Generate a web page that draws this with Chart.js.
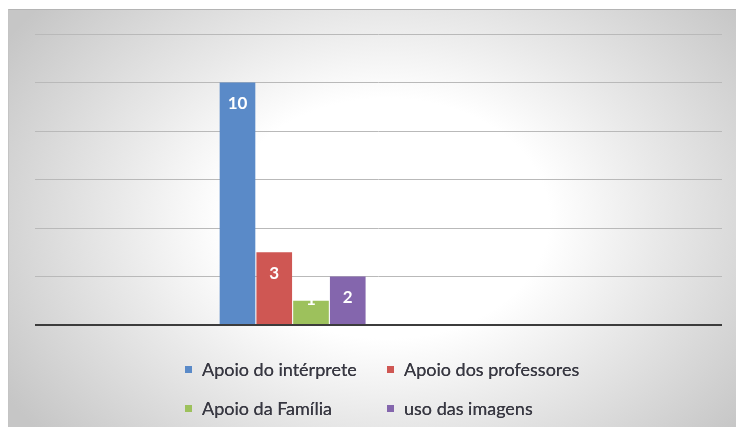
<!DOCTYPE html>
<html lang="pt">
<head>
<meta charset="utf-8">
<script src="https://cdn.jsdelivr.net/npm/chart.js@4.4.1/dist/chart.umd.min.js"></script>
<style>
  html, body { margin: 0; padding: 0; background: #ffffff; }
  #wrap { position: relative; width: 736px; height: 427px; overflow: hidden; }
  #panel {
    position: absolute; left: 8px; top: 9px; right: 0; bottom: 0;
    border-top: 1px solid #b4b4b4;
    border-left: 1px solid #c4c4c4;
    background: radial-gradient(ellipse 62% 80% at 52% 50%, #ffffff 36%, #e9e9e9 60%, #c6c6c6 100%);
  }
  #chart { position: absolute; left: 0; top: 0; }
  #legend {
    position: absolute; left: 185px; top: 357px;
    display: grid; grid-template-columns: 202px 202px; row-gap: 15px;
    font-family: Lato, "Open Sans", sans-serif; font-size: 18px; color: #383842;
    text-shadow: 0 0 0.6px #383842;
  }
  #legend .item { display: flex; align-items: center; height: 24px; white-space: nowrap; }
  #legend .sw { width: 7px; height: 7px; margin-right: 10px; flex: none; }
</style>
</head>
<body>
<div id="wrap">
  <div id="panel"></div>
  <canvas id="chart" width="736" height="427"></canvas>
  <div id="legend"></div>
</div>
<script>
// Slots along the horizontal axis; only the second one carries answers.
const categories = ['', 'Respostas', '', ''];

const seriesNames = ['Apoio do intérprete', 'Apoio dos professores', 'Apoio da Família', 'uso das imagens'];
const apoioInterprete  = [null, 10, null, null];
const apoioProfessores = [null, 3, null, null];
const apoioFamilia     = [null, 1, null, null];
const usoImagens       = [null, 2, null, null];

const yTicks = { min: 0, max: 12, step: 2 };

const seriesColors = ['#5a8ac8', '#cf5753', '#9dc15c', '#8466ad'];
const seriesValues = [apoioInterprete, apoioProfessores, apoioFamilia, usoImagens];

// White value labels placed just inside the top of each bar.
const valueLabels = {
  id: 'valueLabels',
  afterDatasetsDraw(chart) {
    const ctx = chart.ctx;
    ctx.save();
    ctx.fillStyle = '#ffffff';
    ctx.font = 'bold 17px Lato, "Open Sans", sans-serif';
    ctx.textAlign = 'center';
    ctx.textBaseline = 'middle';
    chart.data.datasets.forEach((ds, di) => {
      const meta = chart.getDatasetMeta(di);
      meta.data.forEach((bar, i) => {
        const v = ds.data[i];
        if (v === null || v === undefined) return;
        const y = Math.min(bar.y + 21, bar.base - 24);
        ctx.fillText(String(v), bar.x, y);
      });
    });
    ctx.restore();
  }
};

const chart = new Chart(document.getElementById('chart'), {
  type: 'bar',
  data: {
    labels: categories,
    datasets: seriesNames.map((name, i) => ({
      label: name,
      data: seriesValues[i],
      backgroundColor: seriesColors[i],
      borderWidth: 0,
      categoryPercentage: 0.856,
      barPercentage: 0.97
    }))
  },
  options: {
    responsive: false,
    animation: false,
    layout: { padding: { left: 35, right: 14, top: 34, bottom: 102 } },
    plugins: { legend: { display: false }, tooltip: { enabled: false } },
    scales: {
      x: { display: false },
      y: {
        min: yTicks.min, max: yTicks.max,
        ticks: { display: false, stepSize: yTicks.step },
        border: { display: false },
        grid: {
          drawTicks: false,
          color: c => c.tick.value === 0 ? '#3c3c3c' : '#b9b9b9',
          lineWidth: c => c.tick.value === 0 ? 2 : 1
        },
        afterFit: s => { s.width = 0; }
      }
    }
  },
  plugins: [valueLabels]
});

// Two-column legend built from the datasets.
const legend = document.getElementById('legend');
chart.data.datasets.forEach(ds => {
  const item = document.createElement('div');
  item.className = 'item';
  const sw = document.createElement('span');
  sw.className = 'sw';
  sw.style.background = ds.backgroundColor;
  const txt = document.createElement('span');
  txt.textContent = ds.label;
  item.appendChild(sw);
  item.appendChild(txt);
  legend.appendChild(item);
});
</script>
</body>
</html>
